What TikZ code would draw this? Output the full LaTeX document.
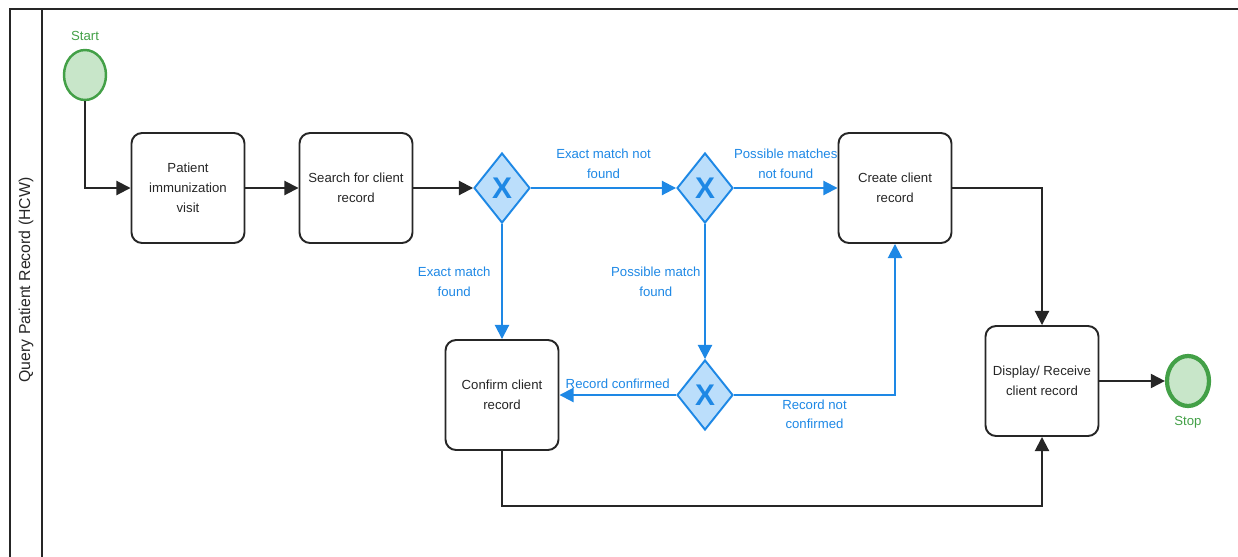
\documentclass[tikz,border=0pt]{standalone}
\usepackage{fontspec}
\setmainfont{Liberation Sans}
\usetikzlibrary{shapes,arrows.meta}

\definecolor{flowblue}{HTML}{1E88E5}
\definecolor{gatefill}{HTML}{BBDEFB}
\definecolor{evgreen}{HTML}{43A047}
\definecolor{evfill}{HTML}{C8E6C9}
\definecolor{linegray}{HTML}{262626}

\begin{document}
\begin{tikzpicture} [
    line width=1.1pt,
    >={Triangle[length=8pt,width=8pt]},
    font=\fontsize{7.5}{11.3}\selectfont,
  ]

  \tikzstyle{task} = [
    rectangle,
    rounded corners=6pt,
    draw=linegray,
    text=linegray,
    align=center,
    inner sep=1pt,
    minimum width=2.26cm,
    minimum height=2.2cm,
  ]
  \tikzstyle{gateway} = [
    diamond,
    draw=flowblue,
    fill=gatefill,
    text=flowblue,
    inner sep=0pt,
    minimum width=1.12cm,
    minimum height=1.4cm,
    font=\fontsize{17}{17}\selectfont\bfseries,
  ]
  \tikzstyle{event} = [
    ellipse,
    draw=evgreen,
    fill=evfill,
    inner sep=0pt,
    minimum width=0.84cm,
    minimum height=1cm,
  ]
  \tikzstyle{flow} = [->, draw=linegray]
  \tikzstyle{cond} = [->, draw=flowblue]
  \tikzstyle{condtext} = [text=flowblue, align=center, inner sep=2pt]

  \useasboundingbox (0,0) rectangle (24.76,-11.14);

  % lane
  \draw[linegray] (24.76,-0.18) -- (0.2,-0.18) -- (0.2,-11.14);
  \draw[linegray] (0.84,-0.18) -- (0.84,-11.14);
  \node[rotate=90,text=linegray,font=\fontsize{9}{11}\selectfont] (lane) at (0.52,-5.6) {Query Patient Record (HCW)};

  \node[event,line width=1.4pt]            (start)    at (1.7,-1.5) {};
  \node[text=evgreen,above of=start,node distance=0.78cm] (startlbl) {Start};
  \node[task]                              (visit)    at (3.76,-3.76) {Patient\\immunization\\visit};
  \node[task,right of=visit,node distance=3.36cm]   (search)   {Search for client\\record};
  \node[gateway,right of=search,node distance=2.92cm] (gw1)    {X};
  \node[gateway,right of=gw1,node distance=4.06cm]  (gw2)      {X};
  \node[task,right of=gw2,node distance=3.8cm]      (create)   {Create client\\record};
  \node[task,below of=gw1,node distance=4.14cm]     (confirm)  {Confirm client\\record};
  \node[gateway,below of=gw2,node distance=4.14cm]  (gw3)      {X};
  \node[task]                              (display)  at (20.84,-7.62) {Display/ Receive\\client record};
  \node[event,right of=display,node distance=2.92cm,line width=2.4pt] (stop) {};
  \node[text=evgreen,below of=stop,node distance=0.82cm] (stoplbl) {Stop};

  \draw[flow] (start) |- (visit);
  \draw[flow] (visit) -- (search);
  \draw[flow] (search) -- (gw1);
  \draw[cond] (gw1) -- node[condtext,above=3pt] {Exact match not\\found} (gw2);
  \draw[cond] (gw2) -- node[condtext,above=3pt] {Possible matches\\not found} (create);
  \draw[cond] (gw1) -- node[condtext,left=4pt] {Exact match\\found} (confirm);
  \draw[cond] (gw2) -- node[condtext,left=0pt,pos=0.43] {Possible match\\found} (gw3);
  \draw[cond] (gw3) -- node[condtext,above=1pt] {Record confirmed} (confirm);
  \draw[cond] (gw3) -| node[condtext,below=0pt,pos=0.25] {Record not\\confirmed} (create);
  \draw[flow] (create) -| (display);
  \draw[flow] (confirm.south) -- ++(0,-1.1) -| (display.south);
  \draw[flow] (display) -- (stop);

\end{tikzpicture}
\end{document}
